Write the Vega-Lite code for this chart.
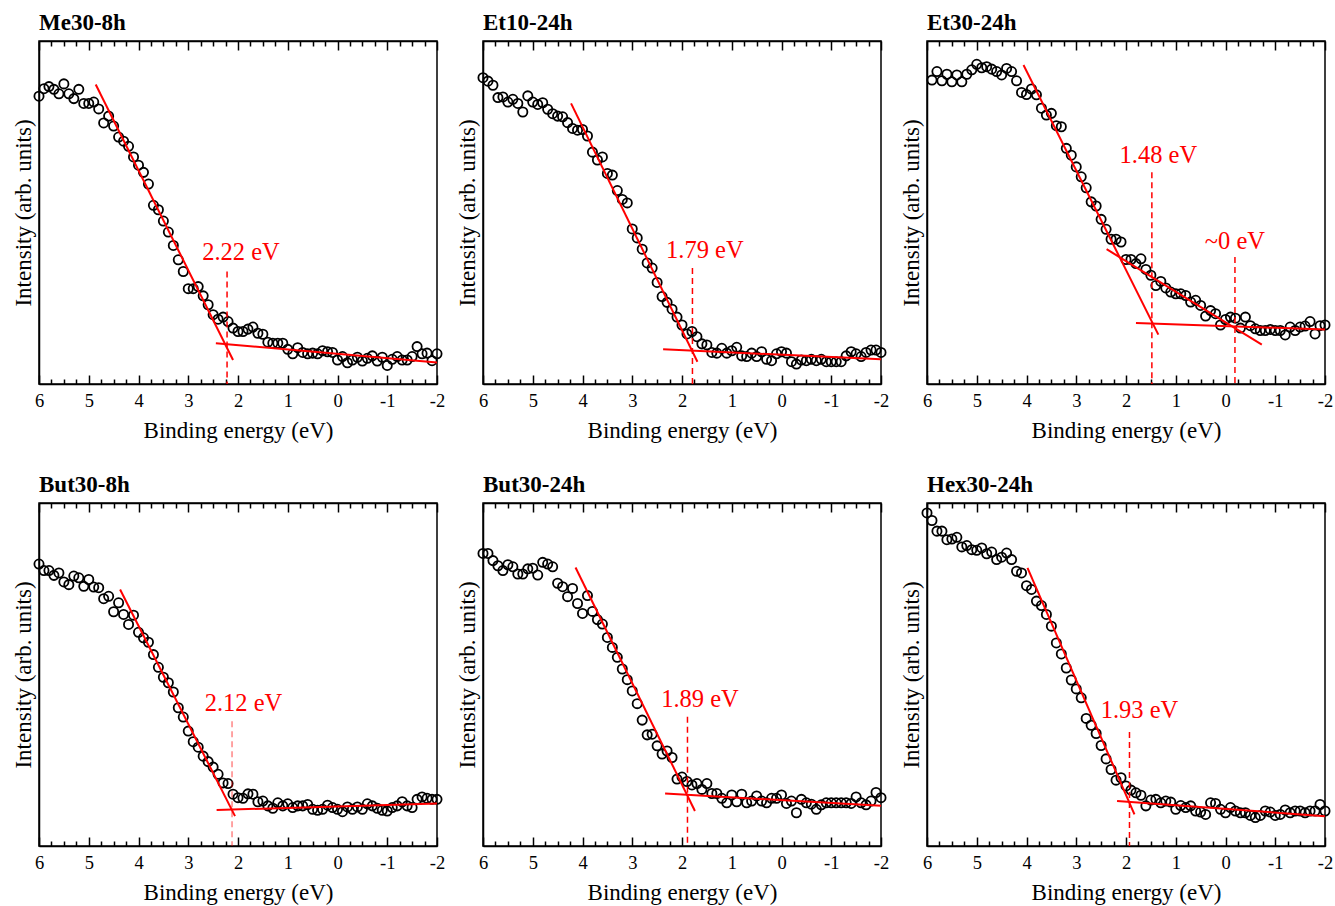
{
 "$schema": "https://vega.github.io/schema/vega-lite/v6.json",
 "background": "white",
 "padding": {"left": 11, "top": 11, "right": 5, "bottom": 62},
 "bounds": "flush",
 "columns": 3,
 "spacing": {"row": 119, "column": 46},
 "config": {
  "font": "Liberation Serif",
  "view": {"stroke": "black", "strokeWidth": 1.5},
  "axis": {"labelFont": "Liberation Serif", "titleFont": "Liberation Serif", "labelFontSize": 18.5, "titleFontSize": 23, "titleFontWeight": "normal", "labelColor": "black", "titleColor": "black", "domainColor": "black", "domainWidth": 1.5, "tickColor": "black", "tickWidth": 1.5, "grid": false},
  "axisY": {"title": "Intensity (arb. units)", "labels": false, "ticks": false, "titlePadding": 4, "orient": "left", "domain": true},
  "title": {"font": "Liberation Serif", "fontSize": 23, "fontWeight": "bold", "anchor": "start", "color": "black", "offset": 5, "baseline": "alphabetic", "frame": "group"}
 },
 "datasets": {
  "p1": [{"e":6.0,"i":83.9},{"e":5.9,"i":86.1},{"e":5.8,"i":86.7},{"e":5.7,"i":85.9},{"e":5.6,"i":84.6},{"e":5.5,"i":87.5},{"e":5.4,"i":84.6},{"e":5.3,"i":83.2},{"e":5.2,"i":85.9},{"e":5.1,"i":81.8},{"e":5.0,"i":81.8},{"e":4.9,"i":82.2},{"e":4.8,"i":80.2},{"e":4.7,"i":76.1},{"e":4.6,"i":78.1},{"e":4.5,"i":75.2},{"e":4.4,"i":72.0},{"e":4.3,"i":70.8},{"e":4.2,"i":69.3},{"e":4.1,"i":66.2},{"e":4.0,"i":63.8},{"e":3.9,"i":61.7},{"e":3.8,"i":58.3},{"e":3.7,"i":52.1},{"e":3.6,"i":50.8},{"e":3.5,"i":47.5},{"e":3.4,"i":44.3},{"e":3.3,"i":40.4},{"e":3.2,"i":36.2},{"e":3.1,"i":32.8},{"e":3.0,"i":27.8},{"e":2.9,"i":27.8},{"e":2.8,"i":28.4},{"e":2.7,"i":25.7},{"e":2.6,"i":23.1},{"e":2.5,"i":20.2},{"e":2.4,"i":18.9},{"e":2.3,"i":19.5},{"e":2.2,"i":18.2},{"e":2.1,"i":16.3},{"e":2.0,"i":15.3},{"e":1.9,"i":15.3},{"e":1.8,"i":16.0},{"e":1.7,"i":16.6},{"e":1.6,"i":14.8},{"e":1.5,"i":14.5},{"e":1.4,"i":12.2},{"e":1.3,"i":11.9},{"e":1.2,"i":11.9},{"e":1.1,"i":11.9},{"e":1.0,"i":10.1},{"e":0.9,"i":8.8},{"e":0.8,"i":10.6},{"e":0.7,"i":9.2},{"e":0.6,"i":8.8},{"e":0.5,"i":9.0},{"e":0.4,"i":8.8},{"e":0.3,"i":9.7},{"e":0.2,"i":9.4},{"e":0.1,"i":9.2},{"e":0.0,"i":7.0},{"e":-0.1,"i":8.0},{"e":-0.2,"i":6.2},{"e":-0.3,"i":7.0},{"e":-0.4,"i":7.8},{"e":-0.5,"i":6.7},{"e":-0.6,"i":7.5},{"e":-0.7,"i":8.2},{"e":-0.8,"i":6.7},{"e":-0.9,"i":7.8},{"e":-1.0,"i":5.4},{"e":-1.1,"i":7.2},{"e":-1.2,"i":8.0},{"e":-1.3,"i":7.0},{"e":-1.4,"i":7.0},{"e":-1.5,"i":8.0},{"e":-1.6,"i":10.9},{"e":-1.7,"i":8.8},{"e":-1.8,"i":9.0},{"e":-1.9,"i":6.8},{"e":-2.0,"i":8.8}],
  "p2": [{"e":6.0,"i":89.3},{"e":5.9,"i":88.3},{"e":5.8,"i":87.1},{"e":5.7,"i":83.5},{"e":5.6,"i":83.7},{"e":5.5,"i":82.2},{"e":5.4,"i":83.0},{"e":5.3,"i":81.8},{"e":5.2,"i":79.3},{"e":5.1,"i":84.0},{"e":5.0,"i":82.2},{"e":4.9,"i":81.5},{"e":4.8,"i":82.0},{"e":4.7,"i":80.1},{"e":4.6,"i":78.8},{"e":4.5,"i":78.1},{"e":4.4,"i":77.9},{"e":4.3,"i":76.2},{"e":4.2,"i":74.5},{"e":4.1,"i":74.0},{"e":4.0,"i":74.2},{"e":3.9,"i":72.3},{"e":3.8,"i":67.6},{"e":3.7,"i":65.3},{"e":3.6,"i":66.2},{"e":3.5,"i":61.4},{"e":3.4,"i":60.9},{"e":3.3,"i":56.4},{"e":3.2,"i":53.8},{"e":3.1,"i":52.8},{"e":3.0,"i":45.2},{"e":2.9,"i":42.6},{"e":2.8,"i":39.3},{"e":2.7,"i":35.3},{"e":2.6,"i":33.8},{"e":2.5,"i":29.6},{"e":2.4,"i":25.5},{"e":2.3,"i":23.8},{"e":2.2,"i":21.8},{"e":2.1,"i":19.5},{"e":2.0,"i":17.2},{"e":1.9,"i":14.6},{"e":1.8,"i":15.3},{"e":1.7,"i":13.8},{"e":1.6,"i":11.7},{"e":1.5,"i":11.4},{"e":1.4,"i":9.2},{"e":1.3,"i":9.0},{"e":1.2,"i":10.4},{"e":1.1,"i":9.0},{"e":1.0,"i":9.7},{"e":0.9,"i":10.7},{"e":0.8,"i":8.2},{"e":0.7,"i":8.0},{"e":0.6,"i":9.0},{"e":0.5,"i":8.0},{"e":0.4,"i":9.4},{"e":0.3,"i":7.2},{"e":0.2,"i":6.8},{"e":0.1,"i":8.8},{"e":0.0,"i":9.4},{"e":-0.1,"i":9.0},{"e":-0.2,"i":6.5},{"e":-0.3,"i":5.8},{"e":-0.4,"i":7.0},{"e":-0.5,"i":6.8},{"e":-0.6,"i":7.2},{"e":-0.7,"i":6.8},{"e":-0.8,"i":7.2},{"e":-0.9,"i":6.5},{"e":-1.0,"i":6.5},{"e":-1.1,"i":6.5},{"e":-1.2,"i":6.5},{"e":-1.3,"i":8.2},{"e":-1.4,"i":9.4},{"e":-1.5,"i":8.8},{"e":-1.6,"i":8.0},{"e":-1.7,"i":9.2},{"e":-1.8,"i":9.9},{"e":-1.9,"i":9.9},{"e":-2.0,"i":9.2}],
  "p3": [{"e":5.9,"i":88.6},{"e":5.8,"i":91.1},{"e":5.7,"i":88.4},{"e":5.6,"i":90.3},{"e":5.5,"i":88.1},{"e":5.4,"i":90.1},{"e":5.3,"i":88.1},{"e":5.2,"i":90.3},{"e":5.1,"i":91.6},{"e":5.0,"i":93.2},{"e":4.9,"i":92.2},{"e":4.8,"i":92.5},{"e":4.7,"i":91.8},{"e":4.6,"i":91.1},{"e":4.5,"i":90.1},{"e":4.4,"i":92.0},{"e":4.3,"i":91.1},{"e":4.2,"i":88.4},{"e":4.1,"i":85.0},{"e":4.0,"i":84.4},{"e":3.9,"i":86.0},{"e":3.8,"i":84.3},{"e":3.7,"i":80.4},{"e":3.6,"i":78.4},{"e":3.5,"i":78.9},{"e":3.4,"i":75.3},{"e":3.3,"i":75.0},{"e":3.2,"i":68.7},{"e":3.1,"i":66.7},{"e":3.0,"i":63.3},{"e":2.9,"i":60.4},{"e":2.8,"i":57.2},{"e":2.7,"i":53.1},{"e":2.6,"i":51.9},{"e":2.5,"i":48.0},{"e":2.4,"i":45.1},{"e":2.3,"i":42.2},{"e":2.2,"i":42.2},{"e":2.1,"i":41.4},{"e":2.0,"i":36.3},{"e":1.9,"i":36.3},{"e":1.8,"i":35.1},{"e":1.7,"i":36.5},{"e":1.6,"i":33.4},{"e":1.5,"i":31.7},{"e":1.4,"i":28.7},{"e":1.3,"i":29.9},{"e":1.2,"i":28.0},{"e":1.1,"i":26.8},{"e":1.0,"i":26.3},{"e":0.9,"i":26.3},{"e":0.8,"i":25.8},{"e":0.7,"i":23.9},{"e":0.6,"i":24.4},{"e":0.5,"i":22.9},{"e":0.4,"i":19.8},{"e":0.3,"i":21.4},{"e":0.2,"i":20.5},{"e":0.1,"i":17.2},{"e":0.0,"i":18.8},{"e":-0.1,"i":19.5},{"e":-0.2,"i":19.2},{"e":-0.3,"i":16.3},{"e":-0.4,"i":19.5},{"e":-0.5,"i":17.0},{"e":-0.6,"i":16.1},{"e":-0.7,"i":15.6},{"e":-0.8,"i":15.6},{"e":-0.9,"i":15.9},{"e":-1.0,"i":15.6},{"e":-1.1,"i":15.6},{"e":-1.2,"i":14.3},{"e":-1.3,"i":16.6},{"e":-1.4,"i":15.6},{"e":-1.5,"i":16.6},{"e":-1.6,"i":16.9},{"e":-1.7,"i":18.2},{"e":-1.8,"i":14.6},{"e":-1.9,"i":17.0},{"e":-2.0,"i":17.2}],
  "p4": [{"e":6.0,"i":82.2},{"e":5.9,"i":80.3},{"e":5.8,"i":80.3},{"e":5.7,"i":78.9},{"e":5.6,"i":79.6},{"e":5.5,"i":77.0},{"e":5.4,"i":76.2},{"e":5.3,"i":78.7},{"e":5.2,"i":78.2},{"e":5.1,"i":75.7},{"e":5.0,"i":77.7},{"e":4.9,"i":75.5},{"e":4.8,"i":75.3},{"e":4.7,"i":72.1},{"e":4.6,"i":72.8},{"e":4.5,"i":68.3},{"e":4.4,"i":70.9},{"e":4.3,"i":67.5},{"e":4.2,"i":64.6},{"e":4.1,"i":67.3},{"e":4.0,"i":62.3},{"e":3.9,"i":60.7},{"e":3.8,"i":59.4},{"e":3.7,"i":55.8},{"e":3.6,"i":52.1},{"e":3.5,"i":49.2},{"e":3.4,"i":47.6},{"e":3.3,"i":44.9},{"e":3.2,"i":40.3},{"e":3.1,"i":37.6},{"e":3.0,"i":33.5},{"e":2.9,"i":30.4},{"e":2.8,"i":28.8},{"e":2.7,"i":26.2},{"e":2.6,"i":24.6},{"e":2.5,"i":23.0},{"e":2.4,"i":20.9},{"e":2.3,"i":18.4},{"e":2.2,"i":18.2},{"e":2.1,"i":15.1},{"e":2.0,"i":14.1},{"e":1.9,"i":13.9},{"e":1.8,"i":15.2},{"e":1.7,"i":15.1},{"e":1.6,"i":12.9},{"e":1.5,"i":13.1},{"e":1.4,"i":11.7},{"e":1.3,"i":11.0},{"e":1.2,"i":12.6},{"e":1.1,"i":11.7},{"e":1.0,"i":12.3},{"e":0.9,"i":11.2},{"e":0.8,"i":11.7},{"e":0.7,"i":11.7},{"e":0.6,"i":12.1},{"e":0.5,"i":10.7},{"e":0.4,"i":10.4},{"e":0.3,"i":10.7},{"e":0.2,"i":11.9},{"e":0.1,"i":11.2},{"e":0.0,"i":10.7},{"e":-0.1,"i":10.0},{"e":-0.2,"i":11.4},{"e":-0.3,"i":10.7},{"e":-0.4,"i":11.4},{"e":-0.5,"i":10.7},{"e":-0.6,"i":12.3},{"e":-0.7,"i":11.7},{"e":-0.8,"i":11.0},{"e":-0.9,"i":10.4},{"e":-1.0,"i":10.2},{"e":-1.1,"i":11.2},{"e":-1.2,"i":11.7},{"e":-1.3,"i":12.9},{"e":-1.4,"i":11.7},{"e":-1.5,"i":11.2},{"e":-1.6,"i":13.6},{"e":-1.7,"i":14.3},{"e":-1.8,"i":13.9},{"e":-1.9,"i":13.6},{"e":-2.0,"i":13.6}],
  "p5": [{"e":6.0,"i":85.3},{"e":5.9,"i":85.3},{"e":5.8,"i":83.2},{"e":5.7,"i":81.7},{"e":5.6,"i":80.3},{"e":5.5,"i":82.0},{"e":5.4,"i":81.4},{"e":5.3,"i":79.3},{"e":5.2,"i":79.3},{"e":5.1,"i":80.8},{"e":5.0,"i":81.0},{"e":4.9,"i":79.0},{"e":4.8,"i":82.7},{"e":4.7,"i":82.2},{"e":4.6,"i":81.4},{"e":4.5,"i":76.6},{"e":4.4,"i":75.6},{"e":4.3,"i":72.7},{"e":4.2,"i":75.1},{"e":4.1,"i":70.7},{"e":4.0,"i":67.8},{"e":3.9,"i":73.0},{"e":3.8,"i":68.4},{"e":3.7,"i":66.0},{"e":3.6,"i":64.7},{"e":3.5,"i":60.8},{"e":3.4,"i":57.9},{"e":3.3,"i":55.0},{"e":3.2,"i":51.6},{"e":3.1,"i":48.5},{"e":3.0,"i":45.2},{"e":2.9,"i":41.5},{"e":2.8,"i":36.7},{"e":2.7,"i":32.4},{"e":2.6,"i":32.6},{"e":2.5,"i":29.2},{"e":2.4,"i":26.8},{"e":2.3,"i":27.7},{"e":2.2,"i":25.8},{"e":2.1,"i":19.5},{"e":2.0,"i":20.1},{"e":1.9,"i":18.8},{"e":1.8,"i":17.8},{"e":1.7,"i":18.2},{"e":1.6,"i":16.5},{"e":1.5,"i":18.2},{"e":1.4,"i":15.3},{"e":1.3,"i":15.3},{"e":1.2,"i":13.9},{"e":1.1,"i":12.6},{"e":1.0,"i":14.9},{"e":0.9,"i":12.9},{"e":0.8,"i":15.1},{"e":0.7,"i":12.6},{"e":0.6,"i":13.1},{"e":0.5,"i":14.6},{"e":0.4,"i":13.1},{"e":0.3,"i":12.6},{"e":0.2,"i":13.9},{"e":0.1,"i":13.9},{"e":0.0,"i":14.9},{"e":-0.1,"i":12.4},{"e":-0.2,"i":13.1},{"e":-0.3,"i":9.7},{"e":-0.4,"i":13.6},{"e":-0.5,"i":12.6},{"e":-0.6,"i":12.2},{"e":-0.7,"i":10.7},{"e":-0.8,"i":12.0},{"e":-0.9,"i":12.6},{"e":-1.0,"i":12.6},{"e":-1.1,"i":12.6},{"e":-1.2,"i":12.6},{"e":-1.3,"i":12.6},{"e":-1.4,"i":12.4},{"e":-1.5,"i":14.3},{"e":-1.6,"i":12.6},{"e":-1.7,"i":12.0},{"e":-1.8,"i":13.1},{"e":-1.9,"i":15.6},{"e":-2.0,"i":14.1}],
  "p6": [{"e":6.0,"i":97.1},{"e":5.9,"i":94.9},{"e":5.8,"i":91.8},{"e":5.7,"i":91.8},{"e":5.6,"i":89.3},{"e":5.5,"i":89.5},{"e":5.4,"i":90.0},{"e":5.3,"i":87.2},{"e":5.2,"i":87.6},{"e":5.1,"i":86.4},{"e":5.0,"i":86.2},{"e":4.9,"i":86.9},{"e":4.8,"i":85.2},{"e":4.7,"i":85.7},{"e":4.6,"i":83.5},{"e":4.5,"i":84.2},{"e":4.4,"i":85.4},{"e":4.3,"i":83.5},{"e":4.2,"i":80.1},{"e":4.1,"i":79.6},{"e":4.0,"i":75.9},{"e":3.9,"i":74.8},{"e":3.8,"i":71.4},{"e":3.7,"i":70.1},{"e":3.6,"i":67.5},{"e":3.5,"i":64.1},{"e":3.4,"i":59.2},{"e":3.3,"i":56.0},{"e":3.2,"i":51.9},{"e":3.1,"i":48.4},{"e":3.0,"i":45.8},{"e":2.9,"i":43.2},{"e":2.8,"i":37.2},{"e":2.7,"i":35.2},{"e":2.6,"i":32.8},{"e":2.5,"i":29.3},{"e":2.4,"i":25.4},{"e":2.3,"i":22.3},{"e":2.2,"i":19.2},{"e":2.1,"i":19.9},{"e":2.0,"i":17.5},{"e":1.9,"i":16.3},{"e":1.8,"i":15.5},{"e":1.7,"i":14.8},{"e":1.6,"i":11.7},{"e":1.5,"i":13.4},{"e":1.4,"i":13.6},{"e":1.3,"i":12.6},{"e":1.2,"i":13.1},{"e":1.1,"i":12.8},{"e":1.0,"i":10.7},{"e":0.9,"i":11.8},{"e":0.8,"i":11.2},{"e":0.7,"i":11.7},{"e":0.6,"i":10.2},{"e":0.5,"i":9.9},{"e":0.4,"i":9.2},{"e":0.3,"i":12.6},{"e":0.2,"i":12.4},{"e":0.1,"i":10.7},{"e":0.0,"i":9.7},{"e":-0.1,"i":11.2},{"e":-0.2,"i":10.2},{"e":-0.3,"i":9.7},{"e":-0.4,"i":9.7},{"e":-0.5,"i":8.9},{"e":-0.6,"i":8.3},{"e":-0.7,"i":8.9},{"e":-0.8,"i":10.2},{"e":-0.9,"i":9.9},{"e":-1.0,"i":8.9},{"e":-1.1,"i":9.2},{"e":-1.2,"i":10.5},{"e":-1.3,"i":9.7},{"e":-1.4,"i":10.2},{"e":-1.5,"i":10.2},{"e":-1.6,"i":9.7},{"e":-1.7,"i":10.2},{"e":-1.8,"i":10.2},{"e":-1.9,"i":12.1},{"e":-2.0,"i":10.2}],
  "fits": [
   {"p":1,"s":"a","e":4.86,"i":87.3},{"p":1,"s":"a","e":2.10,"i":7.0},{"p":1,"s":"b","e":2.445,"i":11.9},{"p":1,"s":"b","e":-2,"i":6.3},
   {"p":2,"s":"a","e":4.23,"i":81.8},{"p":2,"s":"a","e":1.69,"i":6.5},{"p":2,"s":"b","e":2.38,"i":10.1},{"p":2,"s":"b","e":-2,"i":7.2},
   {"p":3,"s":"a","e":4.06,"i":93.0},{"p":3,"s":"a","e":1.35,"i":14.4},{"p":3,"s":"b","e":2.39,"i":39.3},{"p":3,"s":"b","e":-0.73,"i":11.5},{"p":3,"s":"c","e":1.80,"i":17.8},{"p":3,"s":"c","e":-2,"i":15.9},
   {"p":4,"s":"a","e":4.37,"i":74.8},{"p":4,"s":"a","e":2.06,"i":8.7},{"p":4,"s":"b","e":2.43,"i":10.5},{"p":4,"s":"b","e":-2,"i":12.4},
   {"p":5,"s":"a","e":4.14,"i":81.2},{"p":5,"s":"a","e":1.74,"i":10.2},{"p":5,"s":"b","e":2.34,"i":15.3},{"p":5,"s":"b","e":-2,"i":11.7},
   {"p":6,"s":"a","e":3.98,"i":81.1},{"p":6,"s":"a","e":1.83,"i":9.2},{"p":6,"s":"b","e":2.18,"i":13.1},{"p":6,"s":"b","e":-2,"i":8.7}
  ],
  "rules": [
   {"p":1,"e":2.22,"top":32.8},{"p":2,"e":1.79,"top":33.8},{"p":3,"e":1.48,"top":61.7},{"p":3,"e":-0.19,"top":37.0},{"p":4,"e":2.12,"top":36.4},{"p":5,"e":1.89,"top":37.7},{"p":6,"e":1.93,"top":33.2}
  ],
  "labels": [
   {"p":1,"e":1.94,"i":36.2,"t":"2.22 eV"},{"p":2,"e":1.54,"i":36.7,"t":"1.79 eV"},{"p":3,"e":1.35,"i":64.3,"t":"1.48 eV"},{"p":3,"e":-0.19,"i":39.4,"t":"~0 eV"},{"p":4,"e":1.89,"i":39.3,"t":"2.12 eV"},{"p":5,"e":1.64,"i":40.6,"t":"1.89 eV"},{"p":6,"e":1.73,"i":37.4,"t":"1.93 eV"}
  ]
 },
 "concat": [
  {"title": {"text": "Me30-8h"}, "width": 398, "height": 343, "resolve": {"axis": {"x": "independent"}}, "layer": [
   {"data": {"name": "p1"}, "mark": {"type": "point", "shape": "circle", "filled": false, "size": 85, "color": "black", "strokeWidth": 1.8, "opacity": 1}, "encoding": {
     "x": {"field": "e", "type": "quantitative", "scale": {"domain": [-2, 6], "reverse": true, "nice": false, "zero": false}, "axis": {"orient": "bottom", "values": [6,5.75,5.5,5.25,5,4.75,4.5,4.25,4,3.75,3.5,3.25,3,2.75,2.5,2.25,2,1.75,1.5,1.25,1,0.75,0.5,0.25,0,-0.25,-0.5,-0.75,-1,-1.25,-1.5,-1.75,-2], "labelExpr": "datum.value % 1 == 0 ? '' + datum.value : ''", "tickSize": {"condition": {"test": "datum.value % 1 == 0", "value": -9}, "value": -5}, "labelPadding": 16, "labelFlush": false, "labelOverlap": false, "title": "Binding energy (eV)", "titlePadding": 6}},
     "y": {"field": "i", "type": "quantitative", "title": "Intensity (arb. units)", "scale": {"domain": [0, 100], "nice": false, "zero": false}}}},
   {"data": {"name": "fits"}, "transform": [{"filter": "datum.p == 1"}], "mark": {"type": "line", "color": "#ff0000", "strokeWidth": 2}, "encoding": {
     "x": {"field": "e", "type": "quantitative", "scale": {"domain": [-2, 6], "reverse": true, "nice": false, "zero": false}, "axis": {"orient": "top", "values": [6,5.75,5.5,5.25,5,4.75,4.5,4.25,4,3.75,3.5,3.25,3,2.75,2.5,2.25,2,1.75,1.5,1.25,1,0.75,0.5,0.25,0,-0.25,-0.5,-0.75,-1,-1.25,-1.5,-1.75,-2], "labels": false, "title": null, "tickSize": {"condition": {"test": "datum.value % 1 == 0", "value": -9}, "value": -5}}},
     "y": {"field": "i", "type": "quantitative", "title": "Intensity (arb. units)", "scale": {"domain": [0, 100], "nice": false, "zero": false}},
     "detail": {"field": "s"}}},
   {"data": {"name": "rules"}, "transform": [{"filter": "datum.p == 1"}], "mark": {"type": "rule", "color": "#ff0000", "strokeWidth": 1.5, "strokeDash": [6, 4]}, "encoding": {
     "x": {"field": "e", "type": "quantitative", "axis": null},
     "y": {"field": "top", "type": "quantitative", "title": "Intensity (arb. units)"},
     "y2": {"datum": 0}}},
   {"data": {"name": "labels"}, "transform": [{"filter": "datum.p == 1"}], "mark": {"type": "text", "color": "#ff0000", "fontSize": 24.5, "font": "Liberation Serif", "align": "center", "baseline": "alphabetic"}, "encoding": {
     "x": {"field": "e", "type": "quantitative", "axis": null},
     "y": {"field": "i", "type": "quantitative", "title": "Intensity (arb. units)"},
     "text": {"field": "t"}}}
  ]},
  {"title": {"text": "Et10-24h"}, "width": 398, "height": 343, "resolve": {"axis": {"x": "independent"}}, "layer": [
   {"data": {"name": "p2"}, "mark": {"type": "point", "shape": "circle", "filled": false, "size": 85, "color": "black", "strokeWidth": 1.8, "opacity": 1}, "encoding": {
     "x": {"field": "e", "type": "quantitative", "scale": {"domain": [-2, 6], "reverse": true, "nice": false, "zero": false}, "axis": {"orient": "bottom", "values": [6,5.75,5.5,5.25,5,4.75,4.5,4.25,4,3.75,3.5,3.25,3,2.75,2.5,2.25,2,1.75,1.5,1.25,1,0.75,0.5,0.25,0,-0.25,-0.5,-0.75,-1,-1.25,-1.5,-1.75,-2], "labelExpr": "datum.value % 1 == 0 ? '' + datum.value : ''", "tickSize": {"condition": {"test": "datum.value % 1 == 0", "value": -9}, "value": -5}, "labelPadding": 16, "labelFlush": false, "labelOverlap": false, "title": "Binding energy (eV)", "titlePadding": 6}},
     "y": {"field": "i", "type": "quantitative", "title": "Intensity (arb. units)", "scale": {"domain": [0, 100], "nice": false, "zero": false}}}},
   {"data": {"name": "fits"}, "transform": [{"filter": "datum.p == 2"}], "mark": {"type": "line", "color": "#ff0000", "strokeWidth": 2}, "encoding": {
     "x": {"field": "e", "type": "quantitative", "scale": {"domain": [-2, 6], "reverse": true, "nice": false, "zero": false}, "axis": {"orient": "top", "values": [6,5.75,5.5,5.25,5,4.75,4.5,4.25,4,3.75,3.5,3.25,3,2.75,2.5,2.25,2,1.75,1.5,1.25,1,0.75,0.5,0.25,0,-0.25,-0.5,-0.75,-1,-1.25,-1.5,-1.75,-2], "labels": false, "title": null, "tickSize": {"condition": {"test": "datum.value % 1 == 0", "value": -9}, "value": -5}}},
     "y": {"field": "i", "type": "quantitative", "title": "Intensity (arb. units)", "scale": {"domain": [0, 100], "nice": false, "zero": false}},
     "detail": {"field": "s"}}},
   {"data": {"name": "rules"}, "transform": [{"filter": "datum.p == 2"}], "mark": {"type": "rule", "color": "#ff0000", "strokeWidth": 1.5, "strokeDash": [6, 4]}, "encoding": {
     "x": {"field": "e", "type": "quantitative", "axis": null},
     "y": {"field": "top", "type": "quantitative", "title": "Intensity (arb. units)"},
     "y2": {"datum": 0}}},
   {"data": {"name": "labels"}, "transform": [{"filter": "datum.p == 2"}], "mark": {"type": "text", "color": "#ff0000", "fontSize": 24.5, "font": "Liberation Serif", "align": "center", "baseline": "alphabetic"}, "encoding": {
     "x": {"field": "e", "type": "quantitative", "axis": null},
     "y": {"field": "i", "type": "quantitative", "title": "Intensity (arb. units)"},
     "text": {"field": "t"}}}
  ]},
  {"title": {"text": "Et30-24h"}, "width": 398, "height": 343, "resolve": {"axis": {"x": "independent"}}, "layer": [
   {"data": {"name": "p3"}, "mark": {"type": "point", "shape": "circle", "filled": false, "size": 85, "color": "black", "strokeWidth": 1.8, "opacity": 1}, "encoding": {
     "x": {"field": "e", "type": "quantitative", "scale": {"domain": [-2, 6], "reverse": true, "nice": false, "zero": false}, "axis": {"orient": "bottom", "values": [6,5.75,5.5,5.25,5,4.75,4.5,4.25,4,3.75,3.5,3.25,3,2.75,2.5,2.25,2,1.75,1.5,1.25,1,0.75,0.5,0.25,0,-0.25,-0.5,-0.75,-1,-1.25,-1.5,-1.75,-2], "labelExpr": "datum.value % 1 == 0 ? '' + datum.value : ''", "tickSize": {"condition": {"test": "datum.value % 1 == 0", "value": -9}, "value": -5}, "labelPadding": 16, "labelFlush": false, "labelOverlap": false, "title": "Binding energy (eV)", "titlePadding": 6}},
     "y": {"field": "i", "type": "quantitative", "title": "Intensity (arb. units)", "scale": {"domain": [0, 100], "nice": false, "zero": false}}}},
   {"data": {"name": "fits"}, "transform": [{"filter": "datum.p == 3"}], "mark": {"type": "line", "color": "#ff0000", "strokeWidth": 2}, "encoding": {
     "x": {"field": "e", "type": "quantitative", "scale": {"domain": [-2, 6], "reverse": true, "nice": false, "zero": false}, "axis": {"orient": "top", "values": [6,5.75,5.5,5.25,5,4.75,4.5,4.25,4,3.75,3.5,3.25,3,2.75,2.5,2.25,2,1.75,1.5,1.25,1,0.75,0.5,0.25,0,-0.25,-0.5,-0.75,-1,-1.25,-1.5,-1.75,-2], "labels": false, "title": null, "tickSize": {"condition": {"test": "datum.value % 1 == 0", "value": -9}, "value": -5}}},
     "y": {"field": "i", "type": "quantitative", "title": "Intensity (arb. units)", "scale": {"domain": [0, 100], "nice": false, "zero": false}},
     "detail": {"field": "s"}}},
   {"data": {"name": "rules"}, "transform": [{"filter": "datum.p == 3"}], "mark": {"type": "rule", "color": "#ff0000", "strokeWidth": 1.5, "strokeDash": [6, 4]}, "encoding": {
     "x": {"field": "e", "type": "quantitative", "axis": null},
     "y": {"field": "top", "type": "quantitative", "title": "Intensity (arb. units)"},
     "y2": {"datum": 0}}},
   {"data": {"name": "labels"}, "transform": [{"filter": "datum.p == 3"}], "mark": {"type": "text", "color": "#ff0000", "fontSize": 24.5, "font": "Liberation Serif", "align": "center", "baseline": "alphabetic"}, "encoding": {
     "x": {"field": "e", "type": "quantitative", "axis": null},
     "y": {"field": "i", "type": "quantitative", "title": "Intensity (arb. units)"},
     "text": {"field": "t"}}}
  ]},
  {"title": {"text": "But30-8h"}, "width": 398, "height": 343, "resolve": {"axis": {"x": "independent"}}, "layer": [
   {"data": {"name": "p4"}, "mark": {"type": "point", "shape": "circle", "filled": false, "size": 85, "color": "black", "strokeWidth": 1.8, "opacity": 1}, "encoding": {
     "x": {"field": "e", "type": "quantitative", "scale": {"domain": [-2, 6], "reverse": true, "nice": false, "zero": false}, "axis": {"orient": "bottom", "values": [6,5.75,5.5,5.25,5,4.75,4.5,4.25,4,3.75,3.5,3.25,3,2.75,2.5,2.25,2,1.75,1.5,1.25,1,0.75,0.5,0.25,0,-0.25,-0.5,-0.75,-1,-1.25,-1.5,-1.75,-2], "labelExpr": "datum.value % 1 == 0 ? '' + datum.value : ''", "tickSize": {"condition": {"test": "datum.value % 1 == 0", "value": -9}, "value": -5}, "labelPadding": 16, "labelFlush": false, "labelOverlap": false, "title": "Binding energy (eV)", "titlePadding": 6}},
     "y": {"field": "i", "type": "quantitative", "title": "Intensity (arb. units)", "scale": {"domain": [0, 100], "nice": false, "zero": false}}}},
   {"data": {"name": "fits"}, "transform": [{"filter": "datum.p == 4"}], "mark": {"type": "line", "color": "#ff0000", "strokeWidth": 2}, "encoding": {
     "x": {"field": "e", "type": "quantitative", "scale": {"domain": [-2, 6], "reverse": true, "nice": false, "zero": false}, "axis": {"orient": "top", "values": [6,5.75,5.5,5.25,5,4.75,4.5,4.25,4,3.75,3.5,3.25,3,2.75,2.5,2.25,2,1.75,1.5,1.25,1,0.75,0.5,0.25,0,-0.25,-0.5,-0.75,-1,-1.25,-1.5,-1.75,-2], "labels": false, "title": null, "tickSize": {"condition": {"test": "datum.value % 1 == 0", "value": -9}, "value": -5}}},
     "y": {"field": "i", "type": "quantitative", "title": "Intensity (arb. units)", "scale": {"domain": [0, 100], "nice": false, "zero": false}},
     "detail": {"field": "s"}}},
   {"data": {"name": "rules"}, "transform": [{"filter": "datum.p == 4"}], "mark": {"type": "rule", "color": "#ff0000", "strokeWidth": 1.2, "opacity": 0.6, "strokeDash": [6, 4]}, "encoding": {
     "x": {"field": "e", "type": "quantitative", "axis": null},
     "y": {"field": "top", "type": "quantitative", "title": "Intensity (arb. units)"},
     "y2": {"datum": 0}}},
   {"data": {"name": "labels"}, "transform": [{"filter": "datum.p == 4"}], "mark": {"type": "text", "color": "#ff0000", "fontSize": 24.5, "font": "Liberation Serif", "align": "center", "baseline": "alphabetic"}, "encoding": {
     "x": {"field": "e", "type": "quantitative", "axis": null},
     "y": {"field": "i", "type": "quantitative", "title": "Intensity (arb. units)"},
     "text": {"field": "t"}}}
  ]},
  {"title": {"text": "But30-24h"}, "width": 398, "height": 343, "resolve": {"axis": {"x": "independent"}}, "layer": [
   {"data": {"name": "p5"}, "mark": {"type": "point", "shape": "circle", "filled": false, "size": 85, "color": "black", "strokeWidth": 1.8, "opacity": 1}, "encoding": {
     "x": {"field": "e", "type": "quantitative", "scale": {"domain": [-2, 6], "reverse": true, "nice": false, "zero": false}, "axis": {"orient": "bottom", "values": [6,5.75,5.5,5.25,5,4.75,4.5,4.25,4,3.75,3.5,3.25,3,2.75,2.5,2.25,2,1.75,1.5,1.25,1,0.75,0.5,0.25,0,-0.25,-0.5,-0.75,-1,-1.25,-1.5,-1.75,-2], "labelExpr": "datum.value % 1 == 0 ? '' + datum.value : ''", "tickSize": {"condition": {"test": "datum.value % 1 == 0", "value": -9}, "value": -5}, "labelPadding": 16, "labelFlush": false, "labelOverlap": false, "title": "Binding energy (eV)", "titlePadding": 6}},
     "y": {"field": "i", "type": "quantitative", "title": "Intensity (arb. units)", "scale": {"domain": [0, 100], "nice": false, "zero": false}}}},
   {"data": {"name": "fits"}, "transform": [{"filter": "datum.p == 5"}], "mark": {"type": "line", "color": "#ff0000", "strokeWidth": 2}, "encoding": {
     "x": {"field": "e", "type": "quantitative", "scale": {"domain": [-2, 6], "reverse": true, "nice": false, "zero": false}, "axis": {"orient": "top", "values": [6,5.75,5.5,5.25,5,4.75,4.5,4.25,4,3.75,3.5,3.25,3,2.75,2.5,2.25,2,1.75,1.5,1.25,1,0.75,0.5,0.25,0,-0.25,-0.5,-0.75,-1,-1.25,-1.5,-1.75,-2], "labels": false, "title": null, "tickSize": {"condition": {"test": "datum.value % 1 == 0", "value": -9}, "value": -5}}},
     "y": {"field": "i", "type": "quantitative", "title": "Intensity (arb. units)", "scale": {"domain": [0, 100], "nice": false, "zero": false}},
     "detail": {"field": "s"}}},
   {"data": {"name": "rules"}, "transform": [{"filter": "datum.p == 5"}], "mark": {"type": "rule", "color": "#ff0000", "strokeWidth": 1.5, "strokeDash": [6, 4]}, "encoding": {
     "x": {"field": "e", "type": "quantitative", "axis": null},
     "y": {"field": "top", "type": "quantitative", "title": "Intensity (arb. units)"},
     "y2": {"datum": 0}}},
   {"data": {"name": "labels"}, "transform": [{"filter": "datum.p == 5"}], "mark": {"type": "text", "color": "#ff0000", "fontSize": 24.5, "font": "Liberation Serif", "align": "center", "baseline": "alphabetic"}, "encoding": {
     "x": {"field": "e", "type": "quantitative", "axis": null},
     "y": {"field": "i", "type": "quantitative", "title": "Intensity (arb. units)"},
     "text": {"field": "t"}}}
  ]},
  {"title": {"text": "Hex30-24h"}, "width": 398, "height": 343, "resolve": {"axis": {"x": "independent"}}, "layer": [
   {"data": {"name": "p6"}, "mark": {"type": "point", "shape": "circle", "filled": false, "size": 85, "color": "black", "strokeWidth": 1.8, "opacity": 1}, "encoding": {
     "x": {"field": "e", "type": "quantitative", "scale": {"domain": [-2, 6], "reverse": true, "nice": false, "zero": false}, "axis": {"orient": "bottom", "values": [6,5.75,5.5,5.25,5,4.75,4.5,4.25,4,3.75,3.5,3.25,3,2.75,2.5,2.25,2,1.75,1.5,1.25,1,0.75,0.5,0.25,0,-0.25,-0.5,-0.75,-1,-1.25,-1.5,-1.75,-2], "labelExpr": "datum.value % 1 == 0 ? '' + datum.value : ''", "tickSize": {"condition": {"test": "datum.value % 1 == 0", "value": -9}, "value": -5}, "labelPadding": 16, "labelFlush": false, "labelOverlap": false, "title": "Binding energy (eV)", "titlePadding": 6}},
     "y": {"field": "i", "type": "quantitative", "title": "Intensity (arb. units)", "scale": {"domain": [0, 100], "nice": false, "zero": false}}}},
   {"data": {"name": "fits"}, "transform": [{"filter": "datum.p == 6"}], "mark": {"type": "line", "color": "#ff0000", "strokeWidth": 2}, "encoding": {
     "x": {"field": "e", "type": "quantitative", "scale": {"domain": [-2, 6], "reverse": true, "nice": false, "zero": false}, "axis": {"orient": "top", "values": [6,5.75,5.5,5.25,5,4.75,4.5,4.25,4,3.75,3.5,3.25,3,2.75,2.5,2.25,2,1.75,1.5,1.25,1,0.75,0.5,0.25,0,-0.25,-0.5,-0.75,-1,-1.25,-1.5,-1.75,-2], "labels": false, "title": null, "tickSize": {"condition": {"test": "datum.value % 1 == 0", "value": -9}, "value": -5}}},
     "y": {"field": "i", "type": "quantitative", "title": "Intensity (arb. units)", "scale": {"domain": [0, 100], "nice": false, "zero": false}},
     "detail": {"field": "s"}}},
   {"data": {"name": "rules"}, "transform": [{"filter": "datum.p == 6"}], "mark": {"type": "rule", "color": "#ff0000", "strokeWidth": 1.5, "strokeDash": [6, 4]}, "encoding": {
     "x": {"field": "e", "type": "quantitative", "axis": null},
     "y": {"field": "top", "type": "quantitative", "title": "Intensity (arb. units)"},
     "y2": {"datum": 0}}},
   {"data": {"name": "labels"}, "transform": [{"filter": "datum.p == 6"}], "mark": {"type": "text", "color": "#ff0000", "fontSize": 24.5, "font": "Liberation Serif", "align": "center", "baseline": "alphabetic"}, "encoding": {
     "x": {"field": "e", "type": "quantitative", "axis": null},
     "y": {"field": "i", "type": "quantitative", "title": "Intensity (arb. units)"},
     "text": {"field": "t"}}}
  ]}
 ]
}
